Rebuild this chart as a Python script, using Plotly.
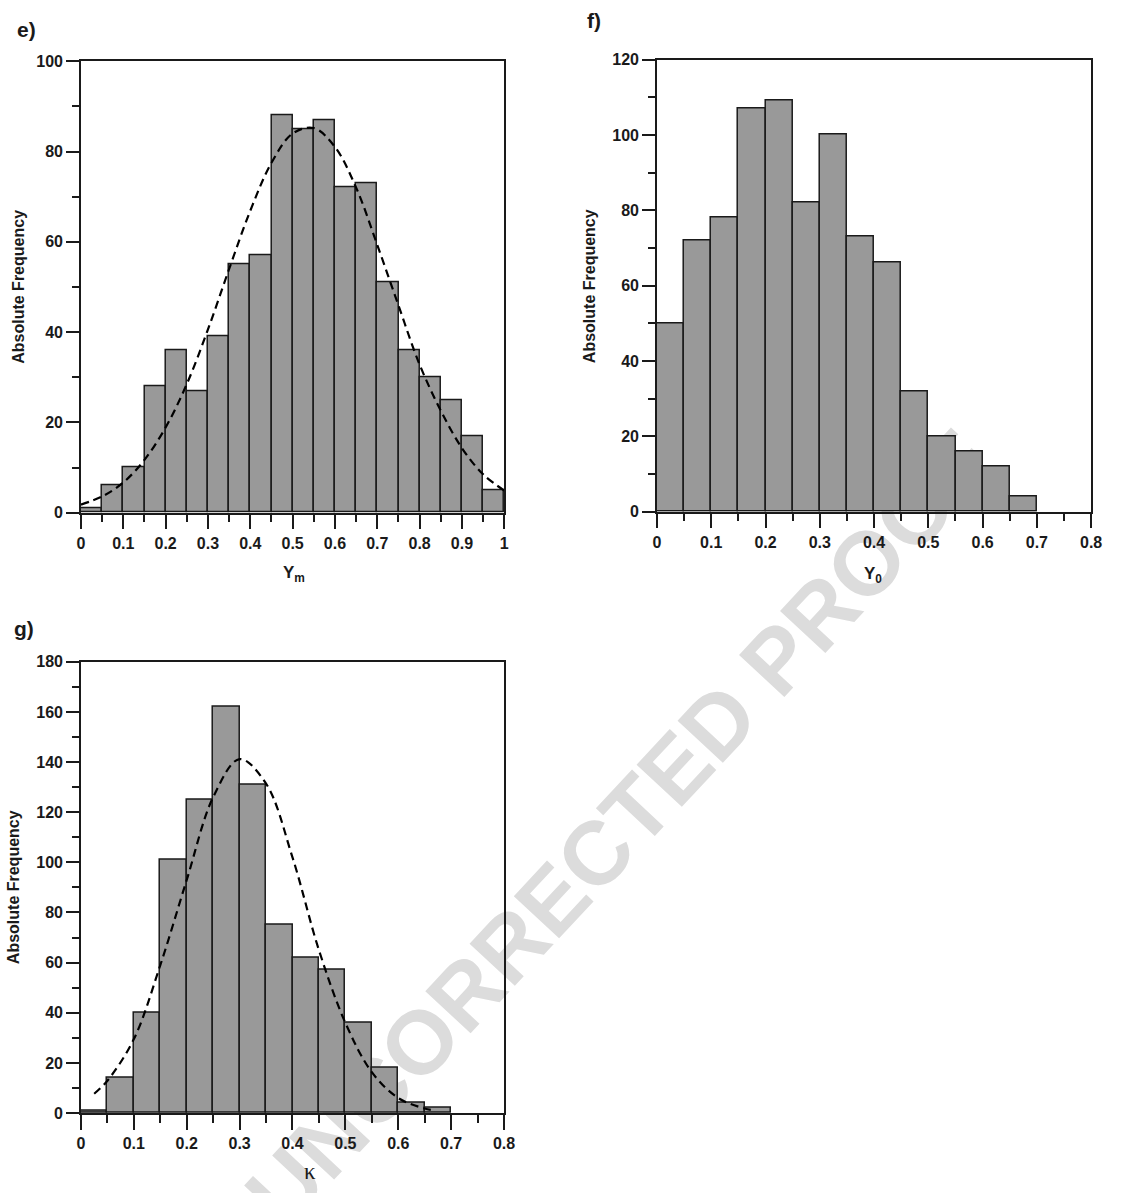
import plotly.graph_objects as go

W, H = 1136, 1193

# ---------------- data ----------------
# panel e : Y_m
e_bin_left = [0.00, 0.05, 0.10, 0.15, 0.20, 0.25, 0.30, 0.35, 0.40, 0.45,
              0.50, 0.55, 0.60, 0.65, 0.70, 0.75, 0.80, 0.85, 0.90, 0.95]
e_counts = [1, 6, 10, 28, 36, 27, 39, 55, 57, 88, 85, 87, 72, 73, 51, 36, 30, 25, 17, 5]
e_curve_x = [0.00, 0.05, 0.10, 0.15, 0.20, 0.25, 0.30, 0.35, 0.40, 0.45, 0.50,
             0.55, 0.60, 0.65, 0.70, 0.75, 0.80, 0.85, 0.90, 0.95, 1.00]
e_curve_y = [1.8, 3.6, 6.7, 11.7, 18.9, 28.5, 40.6, 54.0, 66.9, 77.5, 84.0,
             85.2, 81.0, 72.0, 59.3, 45.9, 32.8, 22.6, 14.3, 8.5, 4.9]

# panel f : Y_0
f_bin_left = [0.00, 0.05, 0.10, 0.15, 0.20, 0.25, 0.30, 0.35, 0.40, 0.45,
              0.50, 0.55, 0.60, 0.65]
f_counts = [50, 72, 78, 107, 109, 82, 100, 73, 66, 32, 20, 16, 12, 4]

# panel g : kappa
g_bin_left = [0.00, 0.05, 0.10, 0.15, 0.20, 0.25, 0.30, 0.35, 0.40, 0.45,
              0.50, 0.55, 0.60, 0.65]
g_counts = [1, 14, 40, 101, 125, 162, 131, 75, 62, 57, 36, 18, 4, 2]
g_curve_x = [0.025, 0.05, 0.10, 0.15, 0.20, 0.25, 0.30, 0.35, 0.40, 0.45,
             0.50, 0.55, 0.60, 0.65, 0.67]
g_curve_y = [7.7, 12.9, 29.5, 59.0, 93.0, 126.0, 141.2, 131.4, 102.0, 65.0,
             36.0, 16.3, 6.0, 1.8, 1.0]

bin_width = 0.05

# ---------------- style ----------------
BAR_FILL = "#999999"
INK = "#1a1a1a"
SANS = "Liberation Sans, Arial, sans-serif"
TICK_FONT = dict(family=SANS, size=16, color=INK, weight="bold")


def px_x(p):
    return p / W


def px_y(p):
    return 1 - p / H


fig = go.Figure()

panels = [
    (e_bin_left, e_counts, e_curve_x, e_curve_y, "x", "y"),
    (f_bin_left, f_counts, None, None, "x2", "y2"),
    (g_bin_left, g_counts, g_curve_x, g_curve_y, "x3", "y3"),
]

for bins, counts, cx, cy, xa, ya in panels:
    fig.add_trace(go.Bar(
        x=bins, y=counts, width=bin_width, offset=0,
        marker=dict(color=BAR_FILL, line=dict(color=INK, width=1.5)),
        xaxis=xa, yaxis=ya, showlegend=False, hoverinfo="x+y",
    ))
    if cx is not None:
        fig.add_trace(go.Scatter(
            x=cx, y=cy, mode="lines", line_shape="spline",
            line=dict(color="black", width=2.2, dash="8px,5px"),
            xaxis=xa, yaxis=ya, showlegend=False, hoverinfo="skip",
        ))


def xaxis_cfg(dom, rng, anchor):
    return dict(
        domain=[px_x(dom[0]), px_x(dom[1])], range=rng, anchor=anchor,
        showline=True, linecolor=INK, linewidth=1.5, mirror=True,
        ticks="outside", ticklen=15, tickwidth=1.5, tickcolor=INK,
        dtick=0.1, tick0=0, tickfont=TICK_FONT,
        minor=dict(ticks="outside", ticklen=8, tickwidth=1.5, tickcolor=INK, dtick=0.05, showgrid=False),
        showgrid=False, zeroline=False, fixedrange=True,
    )


def yaxis_cfg(dom, rng, anchor):
    return dict(
        domain=[px_y(dom[1]), px_y(dom[0])], range=rng, anchor=anchor,
        showline=True, linecolor=INK, linewidth=1.5, mirror=True,
        ticks="outside", ticklen=13, tickwidth=1.5, tickcolor=INK,
        dtick=20, tick0=0, tickfont=TICK_FONT,
        minor=dict(ticks="outside", ticklen=7, tickwidth=1.5, tickcolor=INK, dtick=10, showgrid=False),
        showgrid=False, zeroline=False, fixedrange=True,
    )


annotations = []


def ann(text, x, y, size, angle=0, family=SANS, weight="bold", yanchor="middle"):
    annotations.append(dict(
        text=text, x=px_x(x), y=px_y(y), xref="paper", yref="paper",
        showarrow=False, textangle=angle, xanchor="center", yanchor=yanchor,
        font=dict(family=family, size=size, color=INK, weight=weight),
    ))


# panel labels
ann("e)", 23, 22, 21)
ann("f)", 598, 13, 21)
ann("g)", 20, 629, 21)

# y titles
ann("Absolute Frequency", 15, 283, 16, -90)
ann("Absolute Frequency", 594, 282, 16, -90)
ann("Absolute Frequency", 9, 892, 16, -90)

# x titles
ann("Y<sub>m</sub>", 294, 574, 17)
ann("Y<sub>0</sub>", 881, 575, 17)
ann("κ", 310, 1180, 23, 0, "Liberation Serif, Times New Roman, serif", "normal")

# watermark (drawn beneath the bars via a below-layer shape label)
shapes = [dict(
    type="rect", xref="paper", yref="paper",
    x0=px_x(567), x1=px_x(667), y0=px_y(876), y1=px_y(776),
    line=dict(width=0), fillcolor="rgba(0,0,0,0)", layer="below",
    label=dict(text="UNCORRECTED PROOF", textangle=-47, textposition="middle center",
               font=dict(family=SANS, size=90, color="#dcdcdc", weight="bold")),
)]

fig.update_layout(
    width=W, height=H, autosize=False,
    margin=dict(l=0, r=0, t=0, b=0),
    paper_bgcolor="white", plot_bgcolor="rgba(0,0,0,0)",
    bargap=0,
    xaxis=xaxis_cfg((78, 507), [0, 1], "y"),
    yaxis=yaxis_cfg((54, 512), [0, 100], "x"),
    xaxis2=xaxis_cfg((661.7, 1101.7), [0, 0.8], "y2"),
    yaxis2=yaxis_cfg((52.3, 511), [0, 120], "x2"),
    xaxis3=xaxis_cfg((78, 506.7), [0, 0.8], "y3"),
    yaxis3=yaxis_cfg((663.3, 1121), [0, 180], "x3"),
    annotations=annotations,
    shapes=shapes,
)

fig.write_html("out.html")
